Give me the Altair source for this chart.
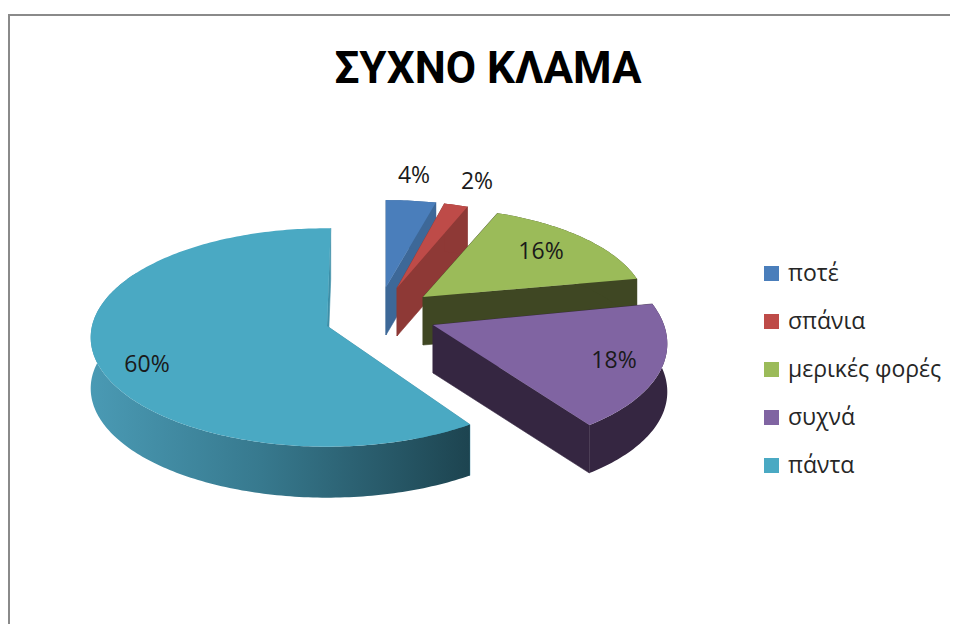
import math
import altair as alt

# ---- data ----
categories = ["ποτέ", "σπάνια", "μερικές φορές", "συχνά", "πάντα"]
shares = [4, 2, 16, 18, 60]
labels = ["4%", "2%", "16%", "18%", "60%"]
title_text = "ΣΥΧΝΟ ΚΛΑΜΑ"

# ---- styling ----
top_colors = ["#4a7ebb", "#be4b48", "#9bbb59", "#8064a2", "#4aa9c3"]
wall_colors = ["#3d6898", "#8e3936", "#3f4723", "#352641", "#3d8fa8"]

# ---- layout of the exploded, tilted pie (page pixels) ----
apex_x = [386, 397, 423, 433, 327]
apex_y = [287, 288, 297, 325, 326]
radius_x = [221, 210, 222, 233, 235]
radius_y = [96, 96, 99, 111, 108]
depth = [48, 48, 48, 48, 51]
rotation_start = [0, 0, 0, -4, 2.3]
rotation_end = [0, 0, 0, -2, 1.0]
skew = [0, 0, 0, 0.03, 0]
label_x = [414, 477, 541, 614, 147]
label_y = [176, 182, 252, 361, 365]
PERSPECTIVE = 0.105
PAGE = 8


def point(i, deg, frac):
    rot = rotation_start[i] + (rotation_end[i] - rotation_start[i]) * frac
    t = math.radians(deg + rot)
    w = 1 + PERSPECTIVE * math.cos(t)
    dx = radius_x[i] * math.sin(t) / w
    return (apex_x[i] + dx,
            apex_y[i] - radius_y[i] * math.cos(t) / w + skew[i] * dx)


def arc(i, a, b, full):
    n = max(2, int(abs(b - a)) + 1)
    out = []
    for k in range(n):
        deg = a + (b - a) * k / (n - 1)
        out.append(point(i, deg, (deg - full[0]) / (full[1] - full[0])))
    return out


def feature(ring, i):
    ring = [list(p) for p in ring]
    ring.append(ring[0])
    return {"type": "Feature",
            "geometry": {"type": "Polygon", "coordinates": [ring]},
            "properties": {"cat": categories[i]}}


projection = alt.Projection(type="identity", scale=1, translate=[-PAGE, -PAGE])

starts = []
acc = 0
for s in shares:
    starts.append(acc)
    acc += s

layers = []

frame_color = "#8a8a8a"
layers.append(alt.Chart(alt.Data(values=[{"a": 0}])).mark_rule(color=frame_color, strokeWidth=2)
              .encode(x=alt.value(1), y=alt.value(7), y2=alt.value(616)))
layers.append(alt.Chart(alt.Data(values=[{"a": 0}])).mark_rule(color=frame_color, strokeWidth=2)
              .encode(x=alt.value(0), x2=alt.value(942), y=alt.value(7)))

big_gradient = alt.LinearGradient(
    gradient="linear", x1=0, x2=1, y1=0, y2=0,
    stops=[alt.GradientStop(offset=0, color="#4a9ab4"),
           alt.GradientStop(offset=0.45, color="#37798e"),
           alt.GradientStop(offset=0.75, color="#295c6c"),
           alt.GradientStop(offset=1, color="#1d4450")])

for i in range(len(shares)):
    a = starts[i] * 3.6
    b = (starts[i] + shares[i]) * 3.6
    d = depth[i]
    top_arc = arc(i, a, b, (a, b))
    apex = (apex_x[i], apex_y[i])
    # only the front of the biggest slice's rim can be seen
    rim = arc(i, a, min(b, 300), (a, b)) if i == 4 else top_arc
    shift = lambda pts: [(x, y + d) for x, y in pts]

    edges = []
    for corner in (top_arc[0], top_arc[-1]):
        edges.append(feature([apex, corner, (corner[0], corner[1] + d), (apex[0], apex[1] + d)], i))
    layers.append(alt.Chart(alt.Data(values=edges))
                  .mark_geoshape(fill=wall_colors[i], stroke=wall_colors[i], strokeWidth=0.6)
                  .project(**projection.to_dict()))

    outer = feature(rim + shift(rim)[::-1], i)
    wall_fill = big_gradient if i == 4 else wall_colors[i]
    layers.append(alt.Chart(alt.Data(values=[outer]))
                  .mark_geoshape(fill=wall_fill, stroke=None)
                  .project(**projection.to_dict()))

    top = feature([apex] + top_arc, i)
    layers.append(alt.Chart(alt.Data(values=[top]))
                  .mark_geoshape(stroke=None)
                  .encode(color=alt.Color(
                      "properties.cat:N",
                      scale=alt.Scale(domain=categories, range=top_colors),
                      legend=alt.Legend(
                          title=None, orient="none",
                          legendX=752, legendY=254,
                          symbolType="square", symbolSize=225, symbolStrokeWidth=0,
                          labelFont="Open Sans", labelFontSize=23, labelColor="#262626",
                          labelOffset=5, rowPadding=24, labelLimit=220)))
                  .project(**projection.to_dict()))

label_rows = [{"t": labels[i], "x": label_x[i] - PAGE, "y": label_y[i] - PAGE}
              for i in range(len(labels))]
layers.append(alt.Chart(alt.Data(values=label_rows))
              .mark_text(font="Open Sans", fontSize=23, color="#1a1a1a", align="center", baseline="middle")
              .encode(x=alt.X("x:Q", scale=None, axis=None),
                      y=alt.Y("y:Q", scale=None, axis=None),
                      text="t:N"))

layers.append(alt.Chart(alt.Data(values=[{"t": title_text}]))
              .mark_text(font="Roboto", fontSize=44, fontWeight="bold", color="#000000",
                         align="center", baseline="alphabetic")
              .encode(x=alt.value(480), y=alt.value(75), text="t:N"))

chart = alt.layer(*layers).properties(
    width=942, height=616, padding=0,
    autosize=alt.AutoSizeParams(type="none"),
).configure_view(stroke=None)

chart.save("out.html", embed_options={"renderer": "svg", "actions": False})
